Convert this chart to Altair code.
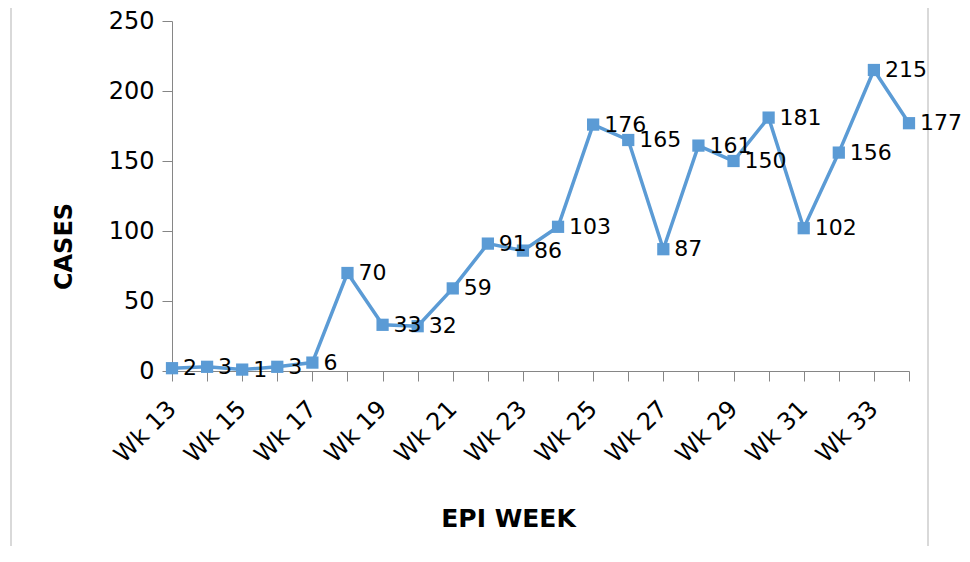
import altair as alt
import pandas as pd

weeks = list(range(13, 35))
cases = [2, 3, 1, 3, 6, 70, 33, 32, 59, 91, 86, 103, 176, 165, 87, 161, 150, 181, 102, 156, 215, 177]
y_ticks = [0, 50, 100, 150, 200, 250]

df = pd.DataFrame({"week": weeks, "cases": cases})

BLUE = "#5B9BD5"
AXIS_GRAY = "#868686"
FONT = "DejaVu Sans"

x_enc = alt.X(
    "week:Q",
    scale=alt.Scale(domain=[13, 34], nice=False, zero=False),
    axis=alt.Axis(
        values=weeks,
        labelExpr="datum.value % 2 == 1 ? 'Wk ' + datum.value : ''",
        labelAngle=-45,
        labelAlign="right",
        labelBaseline="middle",
        labelPadding=24,
        labelFontSize=24,
        labelFont=FONT,
        labelColor="black",
        tickSize=10,
        tickColor=AXIS_GRAY,
        domainColor=AXIS_GRAY,
        grid=False,
        title="EPI WEEK",
        titleFontSize=25,
        titleFont=FONT,
        titleFontWeight="bold",
        titleColor="black",
        titleX=336,
        titleY=147,
        titleAlign="center",
        titleBaseline="middle",
        labelOverlap=False,
    ),
)
y_enc = alt.Y(
    "cases:Q",
    scale=alt.Scale(domain=[0, 250], nice=False),
    axis=alt.Axis(
        values=y_ticks,
        labelFontSize=24,
        labelFont=FONT,
        labelColor="black",
        labelPadding=8,
        tickSize=10,
        tickColor=AXIS_GRAY,
        domainColor=AXIS_GRAY,
        grid=False,
        title="CASES",
        titleFontSize=24,
        titleFont=FONT,
        titleFontWeight="bold",
        titleColor="black",
        titleAngle=270,
        titleX=-108,
        titleY=225,
        titleAlign="center",
        titleBaseline="middle",
    ),
)

base = alt.Chart(df).encode(x=x_enc, y=y_enc)

line = base.mark_line(color=BLUE, strokeWidth=3.5)
points = base.mark_square(size=150, color=BLUE, opacity=1)
labels = base.mark_text(align="left", baseline="middle", dx=11, fontSize=22, font=FONT, color="black").encode(
    text="cases:Q"
)

frame = alt.Chart(pd.DataFrame({"a": [0]})).mark_rect(
    fillOpacity=0, stroke="#d9d9d9", strokeWidth=2
).encode(
    x=alt.value(-161), x2=alt.value(756), y=alt.value(-30), y2=alt.value(700)
)

chart = alt.layer(frame, line, points, labels).properties(
    width=737,
    height=350,
    autosize=alt.AutoSizeParams(type="none"),
    padding={"left": 164, "top": 13, "right": 53, "bottom": 175},
).configure_view(stroke=None)

chart.save("out.html", embed_options={"renderer": "svg", "actions": False})
